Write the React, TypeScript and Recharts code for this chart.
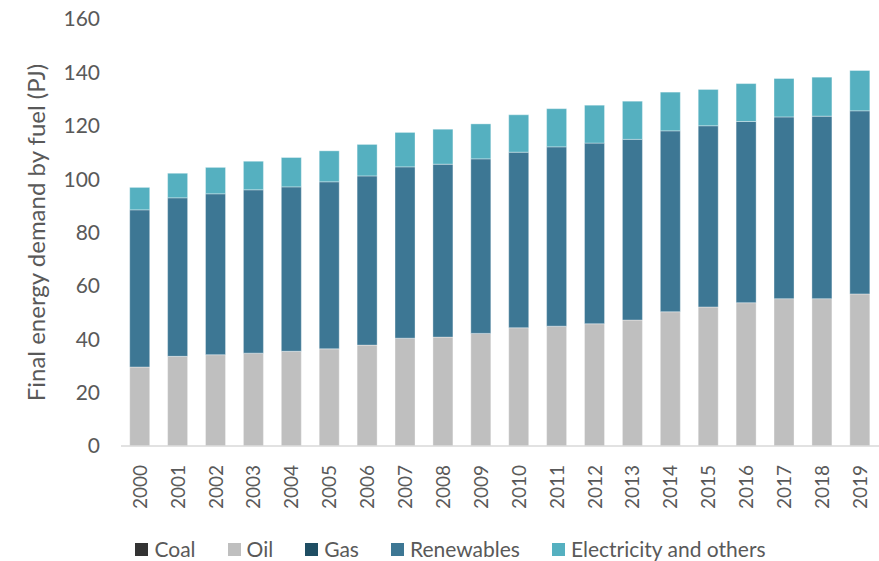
import React from 'react';
import { BarChart, Bar, XAxis, YAxis, Legend } from 'recharts';

// values (PJ)
const years = ['2000', '2001', '2002', '2003', '2004', '2005', '2006', '2007', '2008', '2009',
  '2010', '2011', '2012', '2013', '2014', '2015', '2016', '2017', '2018', '2019'];
const coal = [0, 0, 0, 0, 0, 0, 0, 0, 0, 0, 0, 0, 0, 0, 0, 0, 0, 0, 0, 0];
const oil = [29.6, 33.6, 34.2, 34.8, 35.5, 36.4, 37.8, 40.4, 40.8, 42.2,
  44.3, 44.9, 45.8, 47.2, 50.3, 52.1, 53.7, 55.2, 55.2, 57.0];
const gas = [0, 0, 0, 0, 0, 0, 0, 0, 0, 0, 0, 0, 0, 0, 0, 0, 0, 0, 0, 0];
const renewables = [58.9, 59.4, 60.3, 61.2, 61.6, 62.6, 63.4, 64.2, 64.8, 65.4,
  65.8, 67.2, 67.7, 67.7, 67.8, 67.9, 67.9, 68.1, 68.4, 68.6];
const electricity = [8.4, 9.2, 9.9, 10.7, 11.0, 11.6, 11.8, 12.9, 13.1, 13.1,
  14.0, 14.3, 14.2, 14.3, 14.5, 13.6, 14.2, 14.4, 14.6, 15.1];
const yTicks = [0, 20, 40, 60, 80, 100, 120, 140, 160];

const data = years.map((year, i) => ({
  year,
  coal: coal[i],
  oil: oil[i],
  gas: gas[i],
  renewables: renewables[i],
  electricity: electricity[i],
}));

const FONT = 'Lato, "Open Sans", sans-serif';
const TEXT = '#595959';

const series = [
  { key: 'coal', name: 'Coal', color: '#333333' },
  { key: 'oil', name: 'Oil', color: '#bfbfbf' },
  { key: 'gas', name: 'Gas', color: '#1f4e63' },
  { key: 'renewables', name: 'Renewables', color: '#3d7794' },
  { key: 'electricity', name: 'Electricity and others', color: '#55b0c0' },
];

const YearTick = ({ x, y, payload }: any) => (
  <text
    x={x}
    y={y + 11}
    transform={`rotate(-90, ${x}, ${y + 11})`}
    textAnchor="end"
    dy="0.36em"
    fill={TEXT}
    fontSize={19}
    fontFamily={FONT}
  >
    {payload.value}
  </text>
);

const LegendContent = () => (
  <div
    style={{
      height: 42,
      boxSizing: 'border-box',
      paddingTop: 17,
      paddingLeft: 22,
      display: 'flex',
      justifyContent: 'center',
      alignItems: 'flex-start',
      fontFamily: FONT,
      fontSize: 21,
      lineHeight: '26px',
      color: TEXT,
    }}
  >
    {series.map((s, i) => (
      <div
        key={s.key}
        style={{ display: 'flex', alignItems: 'center', marginRight: i < series.length - 1 ? 32 : 0 }}
      >
        <span style={{ width: 13, height: 13, background: s.color, marginRight: 6, display: 'inline-block' }} />
        <span>{s.name}</span>
      </div>
    ))}
  </div>
);

export default function App() {
  return (
    <div style={{ position: 'absolute', left: 0, top: 0 }}>
      <BarChart
        width={879}
        height={561}
        data={data}
        margin={{ top: 19, right: 0, left: 0, bottom: 0 }}
        barCategoryGap="23%"
      >
        <XAxis
          dataKey="year"
          interval={0}
          height={73}
          tickLine={false}
          axisLine={{ stroke: '#d9d9d9', strokeWidth: 1.5 }}
          tick={<YearTick />}
        />
        <YAxis
          width={121}
          domain={[0, 160]}
          ticks={yTicks}
          axisLine={false}
          tickLine={false}
          tick={{ fill: TEXT, fontSize: 21, fontFamily: FONT }}
          tickMargin={15}
          label={{
            value: 'Final energy demand by fuel (PJ)',
            angle: -90,
            position: 'insideLeft',
            offset: 36,
            style: { textAnchor: 'middle', fill: TEXT, fontSize: 24, fontFamily: FONT },
          }}
        />
        <Legend
          verticalAlign="bottom"
          content={<LegendContent />}
          wrapperStyle={{ left: 0, width: 879 }}
        />
        {series.map((s) => (
          <Bar
            key={s.key}
            dataKey={s.key}
            name={s.name}
            stackId="a"
            fill={s.color}
            stroke="#ffffff"
            strokeOpacity={0.35}
            strokeWidth={1}
            isAnimationActive={false}
          />
        ))}
      </BarChart>
    </div>
  );
}
